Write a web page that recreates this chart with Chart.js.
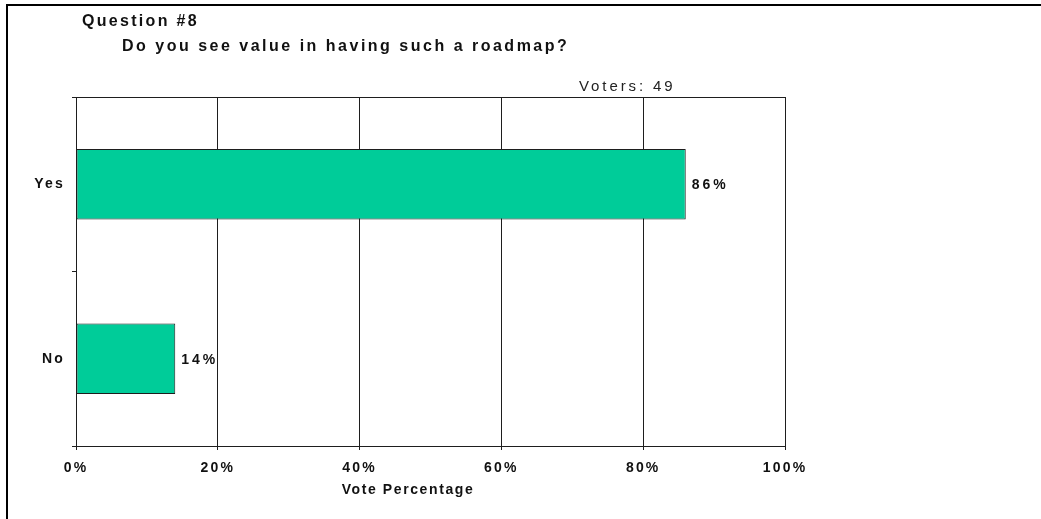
<!DOCTYPE html>
<html>
<head>
<meta charset="utf-8">
<script src="https://cdn.jsdelivr.net/npm/chart.js@4/dist/chart.umd.min.js"></script>
<style>
  html, body { margin: 0; padding: 0; background: #ffffff; }
  canvas { display: block; }
</style>
</head>
<body>
<canvas id="poll" width="1041" height="519"></canvas>
<script>
// Poll result: question, answers and their share of the vote
const questionNumber = 'Question #8';
const questionText = 'Do you see value in having such a roadmap?';
const categories = ['Yes', 'No'];
const votePercent = [86, 14];
const voterCount = 49;
const percentTicks = [0, 20, 40, 60, 80, 100];
const axisTitle = 'Vote Percentage';

const FONT = "'Liberation Sans', Arial, Helvetica, sans-serif";
const INK = '#111111';
const LINE = '#1e1e1e';
const BAR = '#00cc99';

function spaced(ctx, px) {
  if ('letterSpacing' in ctx) ctx.letterSpacing = px + 'px';
}

// Wide letter spacing for the axis text drawn by the scales
const spacingPlugin = {
  id: 'spacing',
  beforeUpdate(chart) { spaced(chart.ctx, 2.2); },
  beforeDraw(chart) { spaced(chart.ctx, 2.2); }
};

// Frame, headings, voter count, value labels and axis caption
const pageTextPlugin = {
  id: 'pageText',
  afterDraw(chart) {
    const { ctx, chartArea } = chart;
    ctx.save();

    ctx.fillStyle = '#000000';
    ctx.fillRect(6, 4, chart.width - 6, 2);
    ctx.fillRect(6, 4, 2, chart.height - 4);

    ctx.fillStyle = INK;
    ctx.textAlign = 'left';
    ctx.textBaseline = 'alphabetic';
    ctx.font = 'bold 16px ' + FONT;
    spaced(ctx, 2.3);
    ctx.fillText(questionNumber, 82, 26);
    spaced(ctx, 2.5);
    ctx.fillText(questionText, 122, 51);

    ctx.font = '15px ' + FONT;
    ctx.fillStyle = '#222222';
    spaced(ctx, 2.9);
    ctx.fillText('Voters: ' + voterCount, 579, 91);

    ctx.fillStyle = INK;
    ctx.font = 'bold 14px ' + FONT;
    spaced(ctx, 3);
    ctx.textBaseline = 'middle';
    const meta = chart.getDatasetMeta(0);
    meta.data.forEach((bar, i) => {
      ctx.fillText(votePercent[i] + '%', bar.x + 6, bar.y + 1);
    });

    ctx.textAlign = 'center';
    ctx.textBaseline = 'alphabetic';
    spaced(ctx, 1.6);
    ctx.fillText(axisTitle, chartArea.left + 332, 494);

    ctx.restore();
  }
};

new Chart(document.getElementById('poll'), {
  type: 'bar',
  data: {
    labels: categories,
    datasets: [{
      data: votePercent,
      backgroundColor: BAR,
      borderColor: LINE,
      borderWidth: 1,
      borderSkipped: false,
      barPercentage: 0.405,
      categoryPercentage: 1,
      xAxisID: 'x',
      yAxisID: 'y'
    }]
  },
  options: {
    indexAxis: 'y',
    responsive: false,
    animation: false,
    devicePixelRatio: 1,
    layout: { padding: { left: 0, top: 97, right: 256, bottom: 41 } },
    plugins: {
      legend: { display: false },
      tooltip: { enabled: false },
      title: { display: false }
    },
    scales: {
      x: {
        type: 'linear',
        position: 'bottom',
        min: 0,
        max: 100,
        afterBuildTicks: (scale) => { scale.ticks = percentTicks.map(v => ({ value: v })); },
        grid: { color: LINE, lineWidth: 1, drawTicks: true, tickLength: 4 },
        border: { display: true, color: LINE, width: 1 },
        ticks: {
          color: INK,
          font: { family: FONT, size: 14, weight: 'bold' },
          padding: 10,
          maxRotation: 0,
          autoSkip: false,
          callback: (v) => v + '%'
        },
        afterFit: (scale) => { scale.height = 32; }
      },
      x2: {
        type: 'linear',
        position: 'top',
        min: 0,
        max: 100,
        grid: { display: false, drawTicks: false },
        ticks: { display: false },
        border: { display: true, color: LINE, width: 1 },
        afterFit: (scale) => { scale.height = 0; }
      },
      y: {
        type: 'category',
        grid: { offset: true, drawOnChartArea: false, drawTicks: true, tickLength: 4, color: LINE },
        border: { display: true, color: LINE, width: 1 },
        ticks: {
          color: INK,
          font: { family: FONT, size: 14, weight: 'bold' },
          padding: 7
        },
        afterFit: (scale) => { scale.width = 76; }
      }
    }
  },
  plugins: [spacingPlugin, pageTextPlugin]
});
</script>
</body>
</html>
